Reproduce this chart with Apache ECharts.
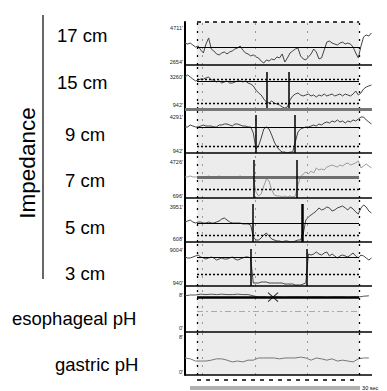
<!DOCTYPE html>
<html><head><meta charset="utf-8">
<script src="https://cdn.jsdelivr.net/npm/echarts@6/dist/echarts.min.js"></script>
<style>html,body{margin:0;padding:0;background:#fff}#c{width:387px;height:391px}</style>
</head><body><div id="c"></div>
<script>
// ---------------- data ----------------
const channelNames = ['17 cm','15 cm','9 cm','7 cm','5 cm','3 cm','esophageal pH','gastric pH'];
const groupLabel = 'Impedance';
const impStep = 0.5;   // seconds between impedance samples
const phStep = 1;      // seconds between pH samples

const imp17 = [3800,3740,3800,3680,3560,3620,3380,3200,3740,4110,
  3440,3320,3140,3080,3200,3260,3140,3260,3320,3440,
  3500,3620,3380,3200,3140,3020,3080,2960,2900,2710,
  2590,2780,2710,2840,2780,2960,2900,3140,2650,2900,
  3200,3320,3440,3500,3020,2840,2780,2960,3140,3440,
  3260,2840,2900,3380,3860,3920,3800,3740,3680,3800,
  3860,3740,3800,3740,3560,3200,2900,3620,4170,4290,
  4230,4410];
const imp15 = [3260,3430,3260,3090,2930,3010,3090,3090,3180,3260,
  3010,3010,2850,2930,2760,2850,2930,2760,2760,2850,
  2930,2930,2850,2930,2760,2680,2520,2180,1940,1770,
  1440,1190,1110,1270,1110,1020,940,780,690,780,
  1360,1690,1850,1940,1770,1690,1770,1850,1690,1770,
  1600,1770,1690,1850,1690,1770,1850,1690,1770,1850,
  1690,1850,1770,1690,1850,2100,1770,1940,2270,2430,
  2520,2600];
const imp9 = [3310,3310,3500,3400,3310,3310,3400,3500,3400,3400,
  3400,3310,3310,3500,3500,3600,3600,3500,3400,3600,
  3600,3500,3400,3400,3310,3310,2720,1140,1440,2220,
  3110,3310,3110,2520,1830,1340,1040,840,840,750,
  840,840,1830,2810,3110,3210,3310,3310,3400,3500,
  3400,3600,3500,3700,3800,3700,3900,3800,4000,3800,
  3900,3700,3900,3800,4000,3900,4090,4290,4290,4000,
  3800,3600];
const imp7 = [2950,2950,3070,2950,2950,2950,2830,2950,2950,3070,
  2950,2950,2950,3070,2950,2950,2950,2830,2950,2950,
  2950,3070,2950,2950,2950,2830,2830,1170,700,930,
  1880,2710,2480,1410,820,700,700,580,700,580,
  700,580,700,2000,2950,3300,3540,3300,3660,3420,
  4020,3780,3900,3780,4130,4250,4370,4250,4130,4370,
  4250,4490,4610,4370,4490,4610,4850,4020,4250,4490,
  4250,4020];
const imp5 = [2380,2490,2590,2380,2280,2380,2380,2280,2280,2380,
  2280,2280,2380,2490,2700,2800,2590,2380,2280,2280,
  2280,2280,2180,2180,2180,2070,820,500,500,710,
  1030,1230,920,610,500,400,400,300,400,400,
  300,300,400,500,500,1130,2590,2910,3120,3320,
  3530,3850,3640,3740,3950,3850,3530,3640,3850,3950,
  4060,3850,3640,3950,3740,3430,3220,3850,4160,3950,
  3530,3320];
const imp3 = [7290,7050,7050,7290,7540,7780,7290,7050,6800,7050,
  7290,7050,6560,6800,7050,6800,6800,7050,7290,6800,
  6560,6800,7050,7290,7290,7050,940,940,940,1180,
  1180,1180,940,940,940,940,940,940,690,690,
  690,690,450,450,450,690,940,8030,7780,8030,
  8520,8030,7780,8270,8520,7540,8030,7540,7050,7540,
  7780,7540,7290,7780,8270,7540,7050,7780,7540,7050,
  6560,7050];
const esoPH = [7.8,8.0,8.0,8.2,8.1,8.2,8.1,8.2,8.1,8.1,8.2,8.1,8.1,7.8,7.5,7.5,7.4,7.5,
  7.5,7.4,7.5,7.5,7.5,7.4,7.5,7.5,7.5,7.4,7.5,7.5,7.5,7.4,7.5,7.5,7.7,7.8];
const gastricPH = [3.2,3.0,2.5,2.5,2.5,2.7,3.0,3.0,2.7,2.3,2.5,2.3,2.7,2.7,3.2,3.2,3.2,3.2,
  3.0,3.2,3.2,3.2,3.4,3.2,2.7,3.2,3.0,2.7,3.0,2.5,2.7,2.5,2.3,3.0,3.2,3.2];

// axis tick labels (bottom, top) per channel
const tickLabels = [[2654,4711],[942,3260],[942,4291],[696,4726],[608,3951],[940,9004],[0,8],[0,8]];
// baseline level (solid), 50% level (dotted), extra dotted level
const baselineLevel = [3560, 2930, 3310, 2950, 2280, 7290, 7.5, null];
const halfLevel     = [null, 1110, 1440, 1530, 1030, 3140, null, null];
const upperDotted   = [null, 3090, null, null, null, null, null, null];
const acidLevel     = [null, null, null, null, null, null, 4, null];
// bolus entry / exit times (s)
const bolusEntry = [null, 15.62, 13.47, 13.14, 12.82, 12.57, null, null];
const bolusExit  = [null, 19.81, 20.82, 21.28, 22.23, 23.18, null, null];
// reflux marker (time s, pH)
const refluxMark = [[16.76, 7.5]];
// analysis window and time grid (s)
const windowRange = [2.29, 33.14];
const timeGrid = [3.24, 13.43, 23.24];
const scaleBar = [0.95, 33.33];
const scaleLabel = '30 sec';

// ---------------- layout ----------------
const T_MAX = 35.6;
const traces = [imp17, imp15, imp9, imp7, imp5, imp3, esoPH, gastricPH];
const steps = [impStep, impStep, impStep, impStep, impStep, impStep, phStep, phStep];
const panels = [
  {top:22,  h:43, min:2472, max:5074, markTop:null},
  {top:65,  h:44, min:611,  max:4253, markTop:3674},
  {top:109, h:44, min:745,  max:5079, markTop:4488},
  {top:153, h:45, min:459,  max:5793, markTop:4963},
  {top:198, h:44, min:294,  max:4891, markTop:4265},
  {top:242, h:44, min:207,  max:10959, markTop:9248},
  {top:286, h:46, min:-0.97, max:10.18, markTop:null},
  {top:332, h:43, min:-0.69, max:9.14, markTop:null}
];
const traceColor = ['#444','#444','#444','#9a9a9a','#444','#444','#555','#777'];

const grids = [], xAxes = [], yAxes = [], series = [];
const lblFont = 'Liberation Sans';

panels.forEach((p, i) => {
  grids.push({left:185, right:15, top:p.top, height:p.h});
  xAxes.push({
    gridIndex:i, type:'value', min:0, max:T_MAX, show:false,
    axisLine:{show:false}, axisTick:{show:false}, axisLabel:{show:false}, splitLine:{show:false}
  });
  yAxes.push({
    gridIndex:i, type:'value', min:p.min, max:p.max,
    axisLine:{show:true, lineStyle:{color:'#000', width:2}},
    axisTick:{show:false},
    axisLabel:{show:true, customValues:tickLabels[i], formatter:v=>String(v) + '\u02B9', fontSize:5.5,
      fontFamily:lblFont, color:'#222', margin:2},
    splitLine:{show:false}
  });
  // background window shading + time grid
  const bgLines = [
    {xAxis:windowRange[0], lineStyle:{color:'#000', type:[2,6], width:1.3}},
    {xAxis:windowRange[1], lineStyle:{color:'#000', type:[2,6], width:1.3}}
  ];
  timeGrid.forEach(t => bgLines.push({xAxis:t, lineStyle:{color:'#999', type:[2,6], width:1}}));
  if (i === 0) bgLines.push([{coord:[windowRange[0], p.max], lineStyle:{color:'#000', type:[4,4], width:1.5}},
                             {coord:[windowRange[1], p.max]}]);
  series.push({
    type:'line', xAxisIndex:i, yAxisIndex:i, data:[], z:1, silent:true,
    markArea:{silent:true, itemStyle:{color:'#ececec'}, data:[[{xAxis:windowRange[0]},{xAxis:windowRange[1]}]]},
    markLine:{silent:true, symbol:'none', label:{show:false}, data:bgLines}
  });
  // levels, markers and panel separator
  const ml = [];
  const hline = (v, style) => [{coord:[windowRange[0], v], lineStyle:style}, {coord:[windowRange[1], v]}];
  if (baselineLevel[i] != null) {
    let st = {color:'#000', type:'solid', width:1.2};
    if (i === 3) st = {color:'#6e6e6e', type:'solid', width:3};
    if (i === 6) st = {color:'#000', type:'solid', width:2.5};
    ml.push(hline(baselineLevel[i], st));
  }
  if (halfLevel[i] != null) ml.push(hline(halfLevel[i], {color:'#000', type:[2,2], width:1.4}));
  if (upperDotted[i] != null) ml.push(hline(upperDotted[i], {color:'#000', type:[2,2], width:1.4}));
  if (acidLevel[i] != null) ml.push(hline(acidLevel[i], {color:'#aaa', type:[6,3,2,3], width:1}));
  if (bolusEntry[i] != null) {
    ml.push([{coord:[bolusEntry[i], p.markTop], lineStyle:{color:'#000', type:'solid', width:1.5}}, {coord:[bolusEntry[i], p.min]}]);
    ml.push([{coord:[bolusExit[i], p.markTop], lineStyle:{color:'#000', type:'solid', width: i===4 ? 2.5 : 1.5}}, {coord:[bolusExit[i], p.min]}]);
  }
  ml.push([{coord:[0, p.min], lineStyle:{color: i===1 ? '#777' : '#000', type:'solid', width: i===1 ? 3 : 1.5}},
           {coord:[T_MAX, p.min]}]);
  series.push({
    type:'line', xAxisIndex:i, yAxisIndex:i, z:3, silent:true,
    showSymbol:false, symbol:'none',
    data: traces[i].map((v, k) => [k * steps[i], v]),
    lineStyle:{color:traceColor[i], width:1},
    markLine:{silent:true, symbol:'none', label:{show:false}, data:ml}
  });
});

// reflux X marker on esophageal pH
series.push({
  type:'scatter', xAxisIndex:6, yAxisIndex:6, z:5, silent:true,
  data: refluxMark,
  symbol:'path://M0,0L10,10M10,0L0,10', symbolSize:[10,9],
  itemStyle:{color:'rgba(0,0,0,0)', borderColor:'#000', borderWidth:1}
});

// bottom scale row
grids.push({left:185, right:15, top:375, height:15});
xAxes.push({gridIndex:8, type:'value', min:0, max:T_MAX, show:false});
yAxes.push({gridIndex:8, type:'value', min:0, max:1, show:false});
series.push({
  type:'line', xAxisIndex:8, yAxisIndex:8, data:[], silent:true,
  markLine:{silent:true, symbol:'none', data:[
    [{coord:[windowRange[0], 0.67], lineStyle:{color:'#000', type:[4,5], width:1.5}, label:{show:false}}, {coord:[windowRange[1], 0.67]}],
    [{coord:[scaleBar[0], 0.13], lineStyle:{color:'#b0b0b0', type:'solid', width:4},
      label:{show:true, position:'end', formatter:scaleLabel, fontSize:5.5, fontFamily:lblFont, color:'#000', distance:2}},
     {coord:[scaleBar[1], 0.13]}]
  ]}
});

// left-hand labels
const labelX = [57, 57, 65, 65, 65, 65, 12, 55];
const labelY = [35.5, 82.5, 134, 180.5, 227, 273, 318.5, 364.5];
const graphic = [
  {type:'line', shape:{x1:43, y1:15, x2:43, y2:279}, style:{stroke:'#000', lineWidth:1.2}},
  {type:'text', x:27, y:163, rotation:Math.PI/2,
   style:{text:groupLabel, font:'22.5px "Liberation Sans"', fill:'#000', align:'center', verticalAlign:'middle'}}
];
channelNames.forEach((n, i) => graphic.push({
  type:'text', x:labelX[i], y:labelY[i],
  style:{text:n, font:'18.5px "Liberation Sans"', fill:'#000', align:'left', verticalAlign:'middle'}
}));

const chart = echarts.init(document.getElementById('c'), null, {renderer:'svg'});
chart.setOption({
  animation:false,
  backgroundColor:'#fff',
  grid:grids, xAxis:xAxes, yAxis:yAxes, series:series, graphic:graphic
});
</script></body></html>
